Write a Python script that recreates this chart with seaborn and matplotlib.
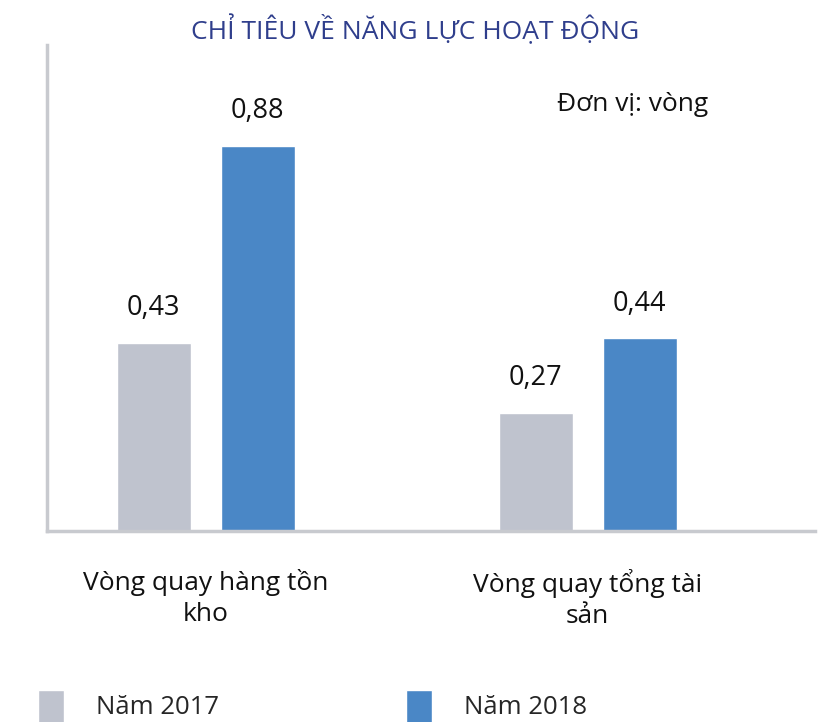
import matplotlib
matplotlib.use('Agg')
import matplotlib.pyplot as plt
import pandas as pd
import seaborn as sns

categories = ['Vòng quay hàng tồn\nkho', 'Vòng quay tổng tài\nsản']
years = ['Năm 2017', 'Năm 2018']
values_2017 = [0.43, 0.27]
values_2018 = [0.88, 0.44]

df = pd.DataFrame({
    'chi_tieu': categories * 2,
    'nam': [years[0]] * 2 + [years[1]] * 2,
    'gia_tri': values_2017 + values_2018,
})

sns.set_style('white')
plt.rcParams['font.family'] = ['Open Sans', 'DejaVu Sans']

palette = {years[0]: '#BFC3CE', years[1]: '#4A87C6'}

fig = plt.figure(figsize=(8.24, 7.22), dpi=100)
ax = fig.add_axes([0.057, 0.2645, 0.932, 0.673])

sns.barplot(data=df, x='chi_tieu', y='gia_tri', hue='nam', order=categories,
            hue_order=years, palette=palette, width=0.545, gap=0.287,
            saturation=1, ax=ax)

for cont in ax.containers:
    ax.bar_label(cont, labels=[f'{v:.2f}'.replace('.', ',') for v in cont.datavalues],
                 padding=15, fontsize=19.5, color='#111111')

ax.set_xlim(-0.416, 1.595)
ax.set_ylim(0, 1.11)
ax.set_yticks([])
ax.set_xlabel('')
ax.set_ylabel('')
ax.set_xticks(range(len(categories)), labels=categories, linespacing=1.35,
              multialignment='center')
ax.tick_params(axis='x', length=0, pad=27, labelsize=19, labelcolor='#111111')

for s in ['top', 'right']:
    ax.spines[s].set_visible(False)
for s in ['left', 'bottom']:
    ax.spines[s].set_color('#C8CACF')
    ax.spines[s].set_linewidth(2.5)

fig.text(0.504, 0.958, 'CHỈ TIÊU VỀ NĂNG LỰC HOẠT ĐỘNG', ha='center', va='center',
         fontsize=19, color='#2F3E8C')
fig.text(0.676, 0.855, 'Đơn vị: vòng', ha='left', va='center', fontsize=19,
         color='#111111')

handles, labels = ax.get_legend_handles_labels()
ax.get_legend().remove()
fig.legend(handles, labels, loc='upper left', bbox_to_anchor=(0.046, 0.045),
           ncol=2, frameon=False, fontsize=18.5, handlelength=1.0, handleheight=1.6,
           handletextpad=1.25, columnspacing=7.3, borderpad=0, borderaxespad=0)

fig.savefig('out.png', dpi=100)
